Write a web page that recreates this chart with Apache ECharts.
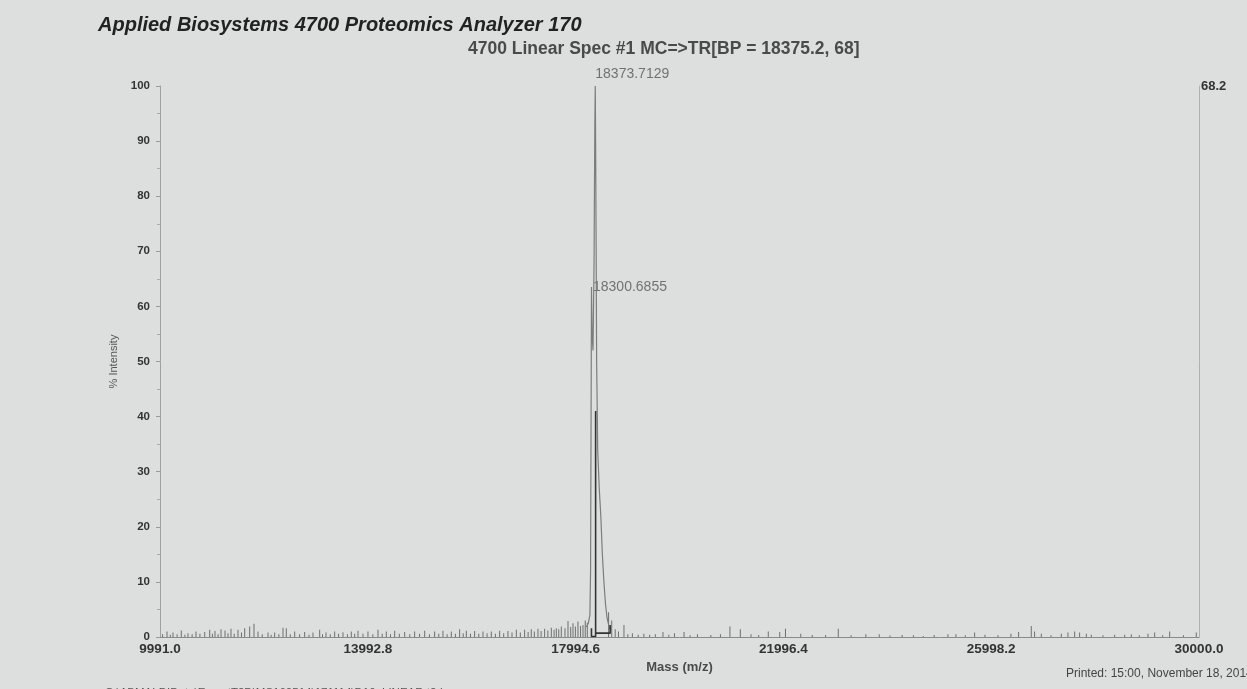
<!DOCTYPE html>
<html>
<head>
<meta charset="utf-8">
<title>4700 Linear Spec</title>
<script src="https://cdn.jsdelivr.net/npm/echarts@6/dist/echarts.min.js"></script>
<style>
  html, body { margin: 0; padding: 0; background: #dddfde; }
  #main { width: 1247px; height: 689px; }
</style>
</head>
<body>
<div id="main"></div>
<script>
// x axis starts at 9991.0, ticks every 4001.8
var massStart = 9991.0;
var massEnd = 30000.0;
var massStep = 4001.8;

// small baseline peaks (m/z, % intensity)
var noiseMass = [
  10040, 10126, 10190, 10241, 10320, 10401, 10470, 10530, 10610, 10684, 10760, 10852, 10948, 11000,
  11050, 11110, 11166, 11243, 11300, 11358, 11420, 11493, 11560, 11622, 11718, 11801, 11878, 11960,
  12071, 12130, 12199, 12280, 12360, 12423, 12500, 12585, 12680, 12777, 12860, 12937, 13066, 13120,
  13188, 13270, 13355, 13430, 13515, 13600, 13675, 13740, 13804, 13900, 13996, 14090, 14189, 14270,
  14349, 14430, 14510, 14600, 14703, 14800, 14895, 14990, 15088, 15180, 15280, 15360, 15440, 15520,
  15601, 15680, 15761, 15830, 15890, 15970, 16050, 16130, 16211, 16290, 16371, 16450, 16532, 16610,
  16692, 16770, 16853, 16930, 17013, 17080, 17141, 17200, 17270, 17330, 17398, 17460, 17527, 17580,
  17623, 17670, 17719, 17790, 17848, 17900, 17944, 17990, 18040, 18090, 18137, 18180, 18220,
  18630, 18690, 18757, 18820, 18926, 19000, 19088, 19200, 19309, 19420, 19530, 19677, 19790, 19899,
  20083, 20200, 20341, 20599, 20784, 20967, 21167, 21373, 21520, 21705, 21926, 22036, 22331, 22552,
  22810, 23053, 23300, 23584, 23842, 24050, 24283, 24500, 24690, 24900, 25165, 25319, 25500, 25679,
  25878, 26128, 26378, 26526, 26770, 26834, 26963, 27150, 27348, 27476, 27605, 27701, 27830, 27926,
  28150, 28375, 28568, 28696, 28850, 29017, 29146, 29300, 29435, 29700, 29948
];
var noiseIntensity = [
  0.5, 1.0, 0.4, 0.8, 0.5, 1.2, 0.4, 0.7, 0.5, 1.0, 0.6, 0.9, 1.3, 0.6,
  1.1, 0.5, 1.4, 1.2, 0.7, 1.5, 0.6, 1.3, 0.8, 1.6, 1.9, 2.4, 1.0, 0.5,
  0.8, 0.4, 0.8, 0.5, 1.7, 1.6, 0.5, 1.0, 0.5, 0.9, 0.4, 0.8, 1.3, 0.5,
  0.8, 0.5, 1.0, 0.6, 0.85, 0.5, 1.0, 0.6, 1.15, 0.6, 1.0, 0.5, 1.3, 0.6,
  1.0, 0.5, 1.15, 0.6, 0.9, 0.5, 1.0, 0.6, 1.15, 0.5, 1.0, 0.6, 1.15, 0.5,
  1.0, 0.6, 1.4, 0.7, 1.15, 0.6, 1.1, 0.6, 1.0, 0.7, 1.0, 0.6, 1.15, 0.7,
  1.1, 0.8, 1.3, 0.8, 1.3, 0.9, 1.4, 1.0, 1.5, 1.1, 1.5, 1.2, 1.7, 1.3,
  1.6, 1.4, 1.9, 1.6, 2.9, 1.8, 2.5, 1.9, 2.8, 2.0, 2.2, 3.0, 2.6,
  4.5, 3.0, 1.4, 1.0, 2.2, 0.5, 0.7, 0.4, 0.6, 0.4, 0.5, 0.9, 0.4, 0.7,
  0.9, 0.3, 0.5, 0.35, 0.5, 1.9, 1.4, 0.5, 0.35, 1.0, 0.9, 1.5, 0.6, 0.35,
  0.35, 1.5, 0.3, 0.5, 0.5, 0.25, 0.35, 0.3, 0.2, 0.35, 0.5, 0.5, 0.3, 0.8,
  0.4, 0.3, 0.6, 0.9, 2.0, 1.0, 0.6, 0.3, 0.6, 0.8, 1.0, 0.8, 0.6, 0.4,
  0.3, 0.4, 0.4, 0.5, 0.3, 0.6, 0.8, 0.3, 1.0, 0.3, 0.8
];

// main peak profile
var peakMass = [18200, 18240, 18270, 18283, 18292, 18300.7, 18312, 18330, 18350, 18365, 18373.7,
  18383, 18400, 18420, 18450, 18480, 18510, 18540, 18570, 18600, 18640, 18680];
var peakIntensity = [1.8, 2.5, 4, 12, 38, 63.5, 55, 52, 68, 93, 100,
  85, 50, 34, 27, 22, 15, 10, 6, 3.5, 1.8, 1.2];

// dark outline at the foot of the peak
var boxMass = [18300, 18300, 18380, 18380, 18380, 18660, 18660];
var boxIntensity = [1.6, 0.1, 0.1, 41, 0.7, 0.7, 2.2];

// labelled peaks
var labelMass = [18373.7129, 18300.6855];
var labelIntensity = [100, 63.5];
var labelPos = ['top', 'right'];

var yTicks = [0, 10, 20, 30, 40, 50, 60, 70, 80, 90, 100];
var absMax = 68.2;

var font = 'Liberation Sans, Arial, sans-serif';

function pairs(xs, ys) {
  return xs.map(function(m, i) { return [m - massStart, ys[i]]; });
}

var chart = echarts.init(document.getElementById('main'));
chart.setOption({
  backgroundColor: '#dddfde',
  animation: false,
  title: [{
    text: 'Applied Biosystems 4700 Proteomics Analyzer 170',
    left: 93, top: 10,
    textStyle: { fontFamily: font, fontSize: 20, fontWeight: 'bold', fontStyle: 'italic', color: '#222' }
  }, {
    text: '4700 Linear Spec #1 MC=>TR[BP = 18375.2, 68]',
    left: 463, top: 35,
    textStyle: { fontFamily: font, fontSize: 17.5, fontWeight: 'bold', color: '#4a4a4a' }
  }, {
    text: 'Printed: 15:00, November 18, 2014',
    left: 1061, top: 663,
    textStyle: { fontFamily: font, fontSize: 12, fontWeight: 'normal', color: '#444' }
  }, {
    text: 'C:\\ABMALDIData\\ExportT2D\\MS160514\\171114\\D10_LINEAR.t2d',
    left: 100, top: 682,
    textStyle: { fontFamily: font, fontSize: 11.5, fontWeight: 'normal', color: '#555' }
  }],
  grid: { left: 160, right: 48, top: 86, bottom: 52 },
  xAxis: {
    type: 'value',
    min: 0,
    max: massEnd - massStart,
    interval: massStep,
    name: 'Mass (m/z)',
    nameLocation: 'middle',
    nameGap: 19,
    nameTextStyle: { fontFamily: font, fontSize: 13, fontWeight: 'bold', color: '#4a4a4a' },
    axisLine: { onZero: false, lineStyle: { color: '#8a8a8a', width: 1 } },
    axisTick: { show: false },
    splitLine: { show: false },
    axisLabel: {
      margin: 5,
      fontFamily: font, fontSize: 13.5, fontWeight: 'bold', color: '#333',
      showMinLabel: true, showMaxLabel: true,
      formatter: function(v) { return (v + massStart).toFixed(1); }
    }
  },
  yAxis: [{
    type: 'value',
    min: yTicks[0],
    max: yTicks[yTicks.length - 1],
    interval: yTicks[1] - yTicks[0],
    name: '% Intensity',
    nameLocation: 'middle',
    nameRotate: 90,
    nameGap: 41,
    nameTextStyle: { fontFamily: font, fontSize: 11, color: '#555' },
    axisLine: { show: true, lineStyle: { color: '#a0a0a0', width: 1 } },
    axisTick: { show: true, length: 4, lineStyle: { color: '#999' } },
    minorTick: { show: true, splitNumber: 2, length: 3, lineStyle: { color: '#aaa' } },
    splitLine: { show: false },
    axisLabel: { margin: 10, fontFamily: font, fontSize: 11.5, fontWeight: 'bold', color: '#333' }
  }, {
    type: 'value',
    position: 'right',
    min: 0,
    max: absMax,
    interval: absMax,
    axisLine: { show: true, lineStyle: { color: '#b0b0b0', width: 1 } },
    axisTick: { show: false },
    splitLine: { show: false },
    axisLabel: {
      margin: 2,
      fontFamily: font, fontSize: 13, fontWeight: 'bold', color: '#333',
      formatter: function(v) { return v > 0 ? v.toFixed(1) : ''; }
    }
  }],
  series: [{
    name: 'noise',
    type: 'bar',
    barWidth: 1,
    itemStyle: { color: '#6e6e6e' },
    data: pairs(noiseMass, noiseIntensity)
  }, {
    name: 'peak',
    type: 'line',
    symbol: 'none',
    lineStyle: { color: '#7c7c7c', width: 1.2 },
    data: pairs(peakMass, peakIntensity)
  }, {
    name: 'box',
    type: 'line',
    symbol: 'none',
    lineStyle: { color: '#333', width: 1.6 },
    data: pairs(boxMass, boxIntensity)
  }, {
    name: 'labels',
    type: 'scatter',
    symbolSize: 1,
    itemStyle: { color: 'rgba(0,0,0,0)' },
    data: labelMass.map(function(m, i) {
      return {
        value: [m - massStart, labelIntensity[i]],
        label: {
          show: true,
          position: labelPos[i],
          distance: labelPos[i] === 'top' ? 4 : 1,
          align: 'left',
          fontFamily: font, fontSize: 14, color: '#555',
          formatter: m.toFixed(4)
        }
      };
    })
  }]
});
</script>
</body>
</html>
